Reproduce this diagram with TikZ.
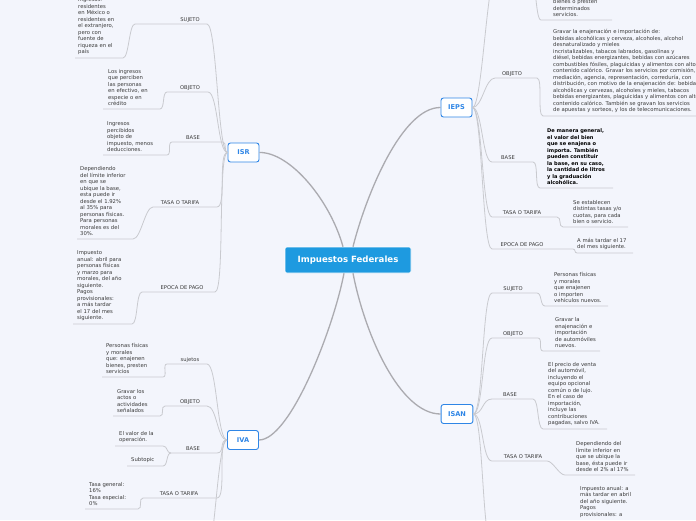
\documentclass[tikz,border=0pt]{standalone}
\usepackage{fontspec}
\setmainfont{DejaVu Sans}
\usepackage{tikz}
\usetikzlibrary{calc}

\definecolor{bgcol}{HTML}{F3F5FC}
\definecolor{hubcol}{HTML}{1E9AE0}
\definecolor{topcol}{HTML}{2F86E6}
\definecolor{twigcol}{HTML}{C9CACF}
\definecolor{trunkcol}{HTML}{ABABB0}
\definecolor{txtcol}{HTML}{3A3A3A}

\tikzset{
  hub/.style={fill=hubcol, draw=white, line width=0.6pt, rounded corners=2pt, minimum width=126pt, minimum height=26pt, text=white, font=\fontsize{8.6}{9}\selectfont\bfseries},
  topic/.style={fill=white, draw=topcol, line width=0.9pt, rounded corners=2.5pt, minimum height=19pt, minimum width=31pt, inner xsep=7pt, text=topcol, font=\fontsize{6.6}{7}\selectfont\bfseries},
  cat/.style={inner sep=0pt, anchor=base, text=txtcol, font=\fontsize{5.2}{5.5}\selectfont},
  leaf/.style={inner sep=0pt, anchor=south west, align=left, text=txtcol, font=\fontsize{5.3}{6.5}\selectfont},
  boldleaf/.style={leaf, text=black, font=\fontsize{5.1}{6.5}\selectfont\bfseries},
  trunk/.style={draw=trunkcol, line width=1.3pt},
  twig/.style={draw=twigcol, line width=0.8pt},
}

\begin{document}
\begin{tikzpicture}[x=1pt,y=-1pt]
		%%%%% START %%%%%
		\useasboundingbox (0,0) rectangle (696,520);
		\fill[bgcol] (0,0) rectangle (696,520);
		
		\node[hub] (hub) at (348,260) {Impuestos Federales};
		\node[topic] (isr) at (243.5,152.5) {ISR};
		\node[topic] (ieps) at (456.5,107.5) {IEPS};
		\node[topic] (iva) at (243,440) {IVA};
		\node[topic] (isan) at (457,414) {ISAN};
		
		\coordinate (hubNW) at ($(hub.north)+(-5,0)$);
		\coordinate (hubNE) at ($(hub.north)+(5,0)$);
		\coordinate (hubSW) at ($(hub.south)+(-4,0)$);
		\coordinate (hubSE) at ($(hub.south)+(5,0)$);
		\draw[trunk] (hubNW) .. controls (330,200) and (290,152) .. (isr.east);
		\draw[trunk] (hubNE) .. controls (366,195) and (402,107) .. (ieps.west);
		\draw[trunk] (hubSW) .. controls (333,330) and (290,440) .. (iva.east);
		\draw[trunk] (hubSE) .. controls (365,335) and (400,414) .. (isan.west);
		
		% ISR
		\coordinate (isrSujA) at (207,24); \coordinate (isrSujB) at (135,24);
		\coordinate (isrSujC) at (123,58); \coordinate (isrSujD) at (75,58);
		\node[cat] (isrSuj) at (190,21.5) {SUJETO};
		\node[leaf] (isrSujT) at (78,55) {ingresos:\\residentes\\en México o\\residentes en\\el extranjero,\\pero con\\fuente de\\riqueza en el\\país};
		\draw[twig] (isr.west) .. controls +(-10,0) and +(10,0) .. (isrSujA) -- (isrSujB) .. controls +(-6,0) and +(6,0) .. (isrSujC) -- (isrSujD);
		
		\coordinate (isrObjA) at (208,92); \coordinate (isrObjB) at (167,92);
		\coordinate (isrObjC) at (160,109); \coordinate (isrObjD) at (103,109);
		\node[cat] (isrObj) at (190,89.5) {OBJETO};
		\node[leaf] (isrObjT) at (108,106) {Los ingresos\\que perciben\\las personas\\en efectivo, en\\especie o en\\crédito};
		\draw[twig] (isr.west) .. controls +(-10,0) and +(10,0) .. (isrObjA) -- (isrObjB) .. controls +(-5,0) and +(5,0) .. (isrObjC) -- (isrObjD);
		
		\coordinate (isrBasA) at (223,142); \coordinate (isrBasB) at (172,142);
		\coordinate (isrBasC) at (167,155); \coordinate (isrBasD) at (103,155);
		\node[cat] (isrBas) at (193,139.5) {BASE};
		\node[leaf] (isrBasT) at (107,152) {Ingresos\\percibidos\\objeto de\\impuesto, menos\\deducciones.};
		\draw[twig] (isr.west) .. controls +(-4,0) and +(4,0) .. (isrBasA) -- (isrBasB) .. controls +(-5,0) and +(5,0) .. (isrBasC) -- (isrBasD);
		
		\coordinate (isrTasA) at (217,207); \coordinate (isrTasB) at (153,207);
		\coordinate (isrTasC) at (133,239); \coordinate (isrTasD) at (77,239);
		\node[cat] (isrTas) at (180,204.5) {TASA O TARIFA};
		\node[leaf] (isrTasT) at (80,236) {Dependiendo\\del límite inferior\\en que se\\ubique la base,\\esta puede ir\\desde el 1.92\%\\al 35\% para\\personas físicas.\\Para personas\\morales es del\\30\%.};
		\draw[twig] (isr.west) .. controls +(-10,0) and +(10,0) .. (isrTasA) -- (isrTasB) .. controls +(-8,0) and +(8,0) .. (isrTasC) -- (isrTasD);
		
		\coordinate (isrEpoA) at (215,292); \coordinate (isrEpoB) at (142,292);
		\coordinate (isrEpoC) at (132,324); \coordinate (isrEpoD) at (73,324);
		\node[cat] (isrEpo) at (182,289.5) {EPOCA DE PAGO};
		\node[leaf] (isrEpoT) at (77,321) {Impuesto\\anual: abril para\\personas físicas\\y marzo para\\morales, del año\\siguiente.\\Pagos\\provisionales:\\a más tardar\\el 17 del mes\\siguiente.};
		\draw[twig] (isr.west) .. controls +(-10,0) and +(10,0) .. (isrEpoA) -- (isrEpoB) .. controls +(-6,0) and +(6,0) .. (isrEpoC) -- (isrEpoD);
		
		% IVA
		\coordinate (ivaSujA) at (207,364); \coordinate (ivaSujB) at (167,364);
		\coordinate (ivaSujC) at (163,377); \coordinate (ivaSujD) at (102,377);
		\node[cat] (ivaSuj) at (190,361.5) {sujetos};
		\node[leaf] (ivaSujT) at (106,374) {Personas físicas\\y morales\\que: enajenen\\bienes, presten\\servicios};
		\draw[twig] (iva.west) .. controls +(-10,0) and +(10,0) .. (ivaSujA) -- (ivaSujB) .. controls +(-5,0) and +(5,0) .. (ivaSujC) -- (ivaSujD);
		
		\coordinate (ivaObjA) at (207,406); \coordinate (ivaObjB) at (165,406);
		\coordinate (ivaObjC) at (160,416); \coordinate (ivaObjD) at (113,416);
		\node[cat] (ivaObj) at (190,403.5) {OBJETO};
		\node[leaf] (ivaObjT) at (117,413) {Gravar los\\actos o\\actividades\\señalados};
		\draw[twig] (iva.west) .. controls +(-10,0) and +(10,0) .. (ivaObjA) -- (ivaObjB) .. controls +(-5,0) and +(5,0) .. (ivaObjC) -- (ivaObjD);
		
		\coordinate (ivaBasA) at (217,453); \coordinate (ivaBasB) at (171,453);
		\coordinate (ivaBasC) at (163,446); \coordinate (ivaBasD) at (115,446);
		\coordinate (ivaSubC) at (163,466); \coordinate (ivaSubD) at (127,466);
		\node[cat] (ivaBas) at (193,450.5) {BASE};
		\node[leaf] (ivaBasT) at (119,443) {El valor de la\\operación.};
		\node[leaf] (ivaSubT) at (131,463) {Subtopic};
		\draw[twig] (iva.west) .. controls +(-8,0) and +(8,0) .. (ivaBasA) -- (ivaBasB) .. controls +(-5,0) and +(5,0) .. (ivaBasC) -- (ivaBasD);
		\draw[twig] (ivaBasB) .. controls +(-5,0) and +(5,0) .. (ivaSubC) -- (ivaSubD);
		
		\coordinate (ivaTasA) at (217,498); \coordinate (ivaTasB) at (143,498);
		\coordinate (ivaTasC) at (138,509); \coordinate (ivaTasD) at (85,509);
		\node[cat] (ivaTas) at (179,495.5) {TASA O TARIFA};
		\node[leaf] (ivaTasT) at (89,506) {Tasa general:\\16\%\\Tasa especial:\\0\%};
		\draw[twig] (iva.west) .. controls +(-10,0) and +(10,0) .. (ivaTasA) -- (ivaTasB) .. controls +(-5,0) and +(5,0) .. (ivaTasC) -- (ivaTasD);
		
		\coordinate (ivaEpoA) at (205,560);
		\draw[twig] (iva.west) .. controls +(-10,0) and +(10,0) .. (ivaEpoA);
		
		% IEPS
		\coordinate (iepsSujA) at (497,-30); \coordinate (iepsSujB) at (530,-30);
		\coordinate (iepsSujC) at (541,20); \coordinate (iepsSujD) at (612,20);
		\node[leaf] (iepsSujT) at (553,17) {bienes o presten\\determinados\\servicios.};
		\draw[twig] (ieps.east) .. controls +(10,0) and +(-10,0) .. (iepsSujA) -- (iepsSujB) .. controls +(6,0) and +(-6,0) .. (iepsSujC) -- (iepsSujD);
		
		\coordinate (iepsObjA) at (495,78); \coordinate (iepsObjB) at (537,78);
		\coordinate (iepsObjC) at (543,116); \coordinate (iepsObjD) at (700,116);
		\node[cat] (iepsObj) at (512,75.5) {OBJETO};
		\node[leaf] (iepsObjT) at (553,113) {Gravar la enajenación e importación de:\\bebidas alcohólicas y cerveza, alcoholes, alcohol\\desnaturalizado y mieles\\incristalizables, tabacos labrados, gasolinas y\\diésel, bebidas energizantes, bebidas con azúcares\\combustibles fósiles, plaguicidas y alimentos con alto\\contenido calórico. Gravar los servicios por comisión,\\mediación, agencia, representación, correduría, con\\distribución, con motivo de la enajenación de: bebidas\\alcohólicas y cervezas, alcoholes y mieles, tabacos\\bebidas energizantes, plaguicidas y alimentos con alto\\contenido calórico. También se gravan los servicios\\de apuestas y sorteos, y los de telecomunicaciones.};
		\draw[twig] (ieps.east) .. controls +(10,0) and +(-10,0) .. (iepsObjA) -- (iepsObjB) .. controls +(6,0) and +(-6,0) .. (iepsObjC) -- (iepsObjD);
		
		\coordinate (iepsBasA) at (492,162); \coordinate (iepsBasB) at (533,162);
		\coordinate (iepsBasC) at (540,188); \coordinate (iepsBasD) at (613,188);
		\node[cat] (iepsBas) at (508,159.5) {BASE};
		\node[boldleaf] (iepsBasT) at (547,185) {De manera general,\\el valor del bien\\que se enajena o\\importa. También\\pueden constituir\\la base, en su caso,\\la cantidad de litros\\y la graduación\\alcohólica.};
		\draw[twig] (ieps.east) .. controls +(10,0) and +(-10,0) .. (iepsBasA) -- (iepsBasB) .. controls +(6,0) and +(-6,0) .. (iepsBasC) -- (iepsBasD);
		
		\coordinate (iepsTasA) at (492,217); \coordinate (iepsTasB) at (557,217);
		\coordinate (iepsTasC) at (563,227); \coordinate (iepsTasD) at (628,227);
		\node[cat] (iepsTas) at (522,214.5) {TASA O TARIFA};
		\node[leaf] (iepsTasT) at (573,224) {Se establecen\\distintas tasas y/o\\cuotas, para cada\\bien o servicio.};
		\draw[twig] (ieps.east) .. controls +(10,0) and +(-10,0) .. (iepsTasA) -- (iepsTasB) .. controls +(5,0) and +(-5,0) .. (iepsTasC) -- (iepsTasD);
		
		\coordinate (iepsEpoA) at (492,249); \coordinate (iepsEpoB) at (573,249);
		\coordinate (iepsEpoC) at (577,253); \coordinate (iepsEpoD) at (633,253);
		\node[cat] (iepsEpo) at (522,246.5) {EPOCA DE PAGO};
		\node[leaf] (iepsEpoT) at (577,250) {A más tardar el 17\\del mes siguiente.};
		\draw[twig] (ieps.east) .. controls +(10,0) and +(-10,0) .. (iepsEpoA) -- (iepsEpoB) .. controls +(3,0) and +(-3,0) .. (iepsEpoC) -- (iepsEpoD);
		
		% ISAN
		\coordinate (isanSujA) at (492,293); \coordinate (isanSujB) at (537,293);
		\coordinate (isanSujC) at (545,306); \coordinate (isanSujD) at (608,306);
		\node[cat] (isanSuj) at (513,290.5) {SUJETO};
		\node[leaf] (isanSujT) at (554,303) {Personas físicas\\y morales\\que enajenen\\o importen\\vehículos nuevos.};
		\draw[twig] (isan.east) .. controls +(10,0) and +(-10,0) .. (isanSujA) -- (isanSujB) .. controls +(5,0) and +(-5,0) .. (isanSujC) -- (isanSujD);
		
		\coordinate (isanObjA) at (492,338); \coordinate (isanObjB) at (538,338);
		\coordinate (isanObjC) at (543,351); \coordinate (isanObjD) at (600,351);
		\node[cat] (isanObj) at (513,335.5) {OBJETO};
		\node[leaf] (isanObjT) at (555,348) {Gravar la\\enajenación e\\importación\\de automóviles\\nuevos.};
		\draw[twig] (isan.east) .. controls +(10,0) and +(-10,0) .. (isanObjA) -- (isanObjB) .. controls +(5,0) and +(-5,0) .. (isanObjC) -- (isanObjD);
		
		\coordinate (isanBasA) at (492,399); \coordinate (isanBasB) at (533,399);
		\coordinate (isanBasC) at (543,429); \coordinate (isanBasD) at (607,429);
		\node[cat] (isanBas) at (510,396.5) {BASE};
		\node[leaf] (isanBasT) at (548,426) {El precio de venta\\del automóvil,\\incluyendo el\\equipo opcional\\común o de lujo.\\En el caso de\\importación,\\incluye las\\contribuciones\\pagadas, salvo IVA.};
		\draw[twig] (isan.east) .. controls +(10,0) and +(-10,0) .. (isanBasA) -- (isanBasB) .. controls +(6,0) and +(-6,0) .. (isanBasC) -- (isanBasD);
		
		\coordinate (isanTasA) at (492,461); \coordinate (isanTasB) at (547,461);
		\coordinate (isanTasC) at (565,475); \coordinate (isanTasD) at (635,475);
		\node[cat] (isanTas) at (523,458.5) {TASA O TARIFA};
		\node[leaf] (isanTasT) at (576,472) {Dependiendo del\\límite inferior en\\que se ubique la\\base, ésta puede ir\\desde el 2\% al 17\%};
		\draw[twig] (isan.east) .. controls +(10,0) and +(-10,0) .. (isanTasA) -- (isanTasB) .. controls +(6,0) and +(-6,0) .. (isanTasC) -- (isanTasD);
		
		\coordinate (isanEpoA) at (492,545);
		\node[leaf, anchor=north west] (isanEpoT) at (580,486) {Impuesto anual: a\\más tardar en abril\\del año siguiente.\\Pagos\\provisionales: a};
		\draw[twig] (isan.east) .. controls +(10,0) and +(-10,0) .. (isanEpoA);
		
		%%%%% END %%%%%
\end{tikzpicture}
\end{document}
